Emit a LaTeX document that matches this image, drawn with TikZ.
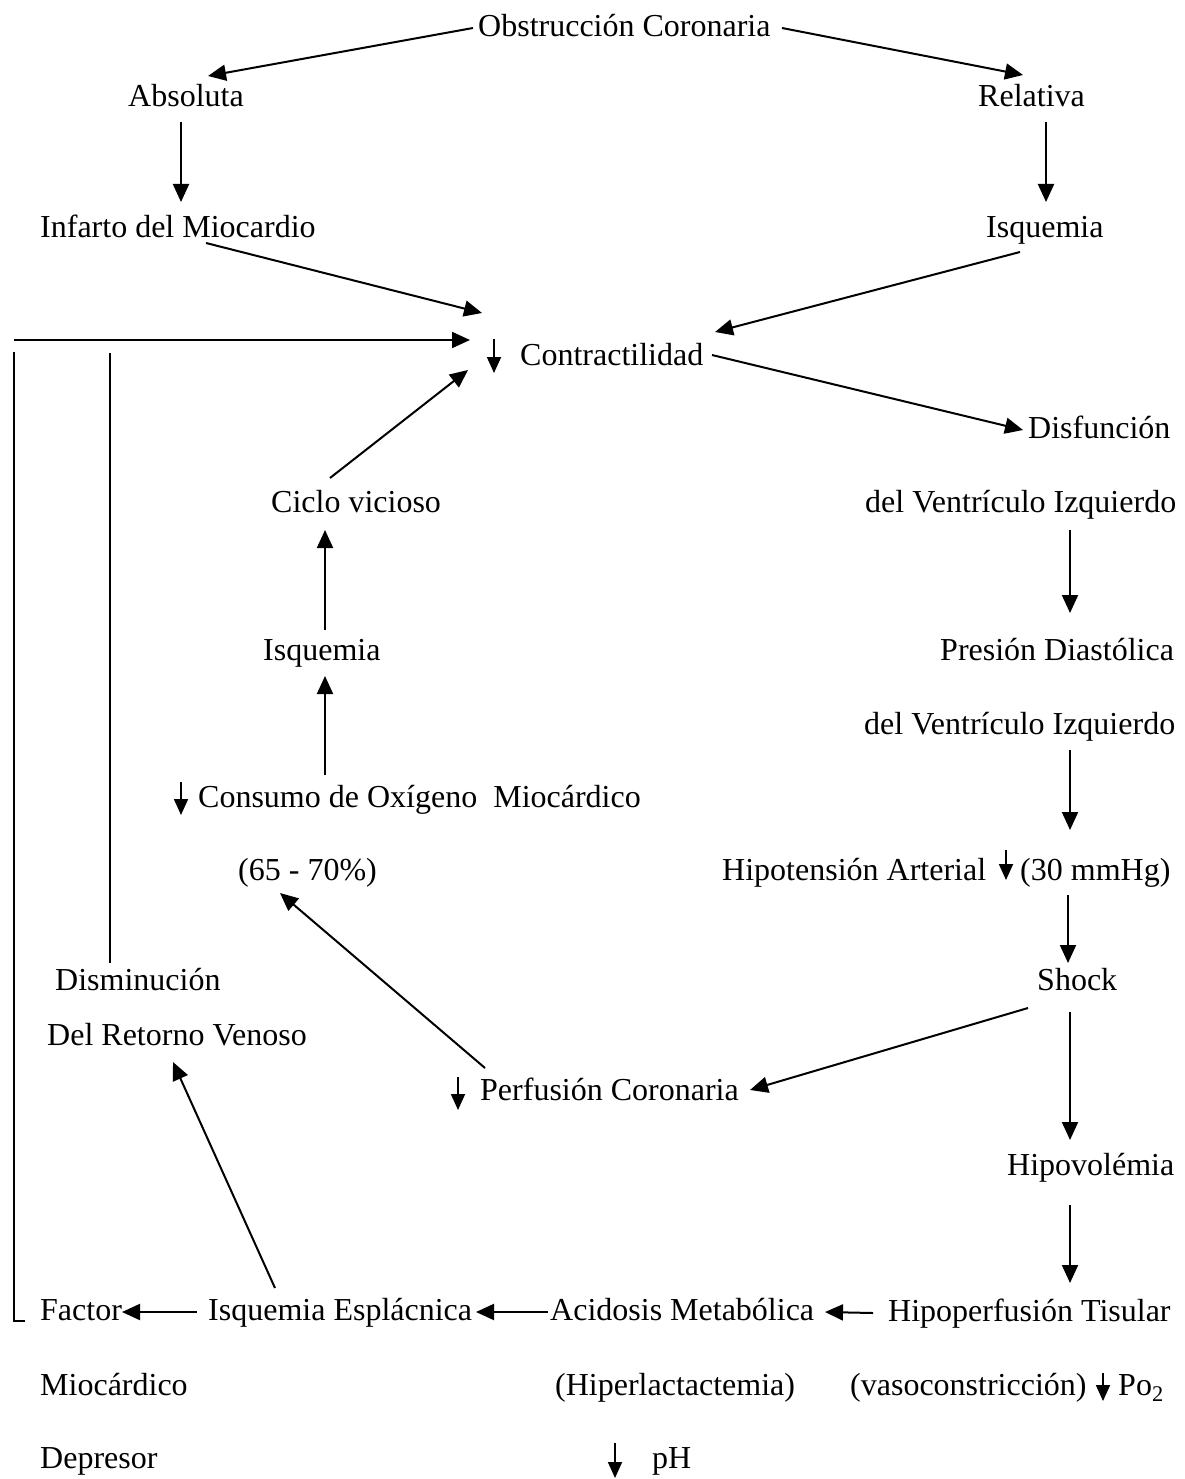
\documentclass[tikz,border=0pt]{standalone}
\usepackage{fontspec}
\setmainfont{Liberation Serif}
\usetikzlibrary{arrows.meta,calc}
\begin{document}
\begin{tikzpicture}[x=1pt,y=-1pt,
  lbl/.style={anchor=base west,inner sep=0pt,font=\fontsize{32}{38}\selectfont,text height=23pt,text depth=7pt},
  arr/.style={line width=2pt,-{Triangle[length=18pt,width=16pt]}},
  down/.style={line width=1.8pt,-{Triangle[length=16pt,width=14pt]}},
  wire/.style={line width=2pt}]
\useasboundingbox (0,0) rectangle (1184,1479);

% ---- labels ----
\node[lbl] (obs)   at (478,37)   {Obstrucción Coronaria};
\node[lbl] (abs)   at (128,107)  {Absoluta};
\node[lbl] (rel)   at (978,107)  {Relativa};
\node[lbl] (inf)   at (40,237)   {Infarto del Miocardio};
\node[lbl] (isqa)  at (986,237)  {Isquemia};
\node[lbl] (con)   at (520,365)  {Contractilidad};
\node[lbl] (dis)   at (1028,438) {Disfunción};
\node[lbl] (cic)   at (271,512)  {Ciclo vicioso};
\node[lbl] (dva)   at (865,512)  {del Ventrículo Izquierdo};
\node[lbl] (isqb)  at (263,660)  {Isquemia};
\node[lbl] (pre)   at (940,660)  {Presión Diastólica};
\node[lbl] (dvb)   at (864,734)  {del Ventrículo Izquierdo};
\node[lbl] (cons)  at (198,807)  {Consumo de Oxígeno\ \ Miocárdico};
\node[lbl] (pct)   at (238,880)  {(65 - 70\%)};
\node[lbl] (hip)   at (722,880)  {Hipotensión Arterial};
\node[lbl] (mmhg)  at (1020,880) {(30 mmHg)};
\node[lbl] (dism)  at (55,990)   {Disminución};
\node[lbl] (ret)   at (47,1045)  {Del Retorno Venoso};
\node[lbl] (shock) at (1037,990) {Shock};
\node[lbl] (perf)  at (480,1100) {Perfusión Coronaria};
\node[lbl] (hipov) at (1007,1175){Hipovolémia};
\node[lbl] (fac)   at (40,1320)  {Factor};
\node[lbl] (ise)   at (208,1320) {Isquemia Esplácnica};
\node[lbl] (aci)   at (550,1320) {Acidosis Metabólica};
\node[lbl] (hpt)   at (888,1321) {Hipoperfusión Tisular};
\node[lbl] (mio)   at (40,1395)  {Miocárdico};
\node[lbl] (hlac)  at (555,1395) {(Hiperlactactemia)};
\node[lbl] (vaso)  at (850,1395) {(vasoconstricción)};
\node[lbl] (po)    at (1118,1395){Po\textsubscript{2}};
\node[lbl] (dep)   at (40,1468)  {Depresor};
\node[lbl] (ph)    at (652,1468) {pH};

% ---- small "decrease" arrows ----
\draw[down] ($(con.base west)+(-26,-26)$) -- ($(con.base west)+(-26,8)$);
\draw[down] ($(cons.base west)+(-17,-25)$) -- ($(cons.base west)+(-17,8)$);
\draw[down] ($(mmhg.base west)+(-14,-30)$) -- ($(mmhg.base west)+(-14,0)$);
\draw[down] ($(perf.base west)+(-22,-23)$) -- ($(perf.base west)+(-22,10)$);
\draw[down] ($(po.base west)+(-15,-22)$) -- ($(po.base west)+(-15,6)$);
\draw[down] ($(ph.base west)+(-37,-25)$) -- ($(ph.base west)+(-37,10)$);

% ---- upper part ----
\draw[arr] ($(obs.base west)+(-5,-9)$) -- ($(abs.base west)+(80,-31)$);
\draw[arr] ($(obs.base west)+(304,-9)$) -- ($(rel.base west)+(45,-32)$);
\draw[arr] ($(abs.base west)+(53,15)$) -- ($(inf.base west)+(141,-35)$);
\draw[arr] ($(rel.base west)+(68,15)$) -- ($(isqa.base west)+(60,-35)$);
\draw[arr] ($(inf.base west)+(166,6)$) -- ($(con.base west)+(-38,-52)$);
\draw[arr] ($(isqa.base west)+(34,15)$) -- ($(con.base west)+(195,-33)$);
\draw[arr] ($(con.base west)+(192,-10)$) -- ($(dis.base west)+(-5,-8)$);

% ---- feedback lines on the left ----
\coordinate (lt) at (14,340);
\coordinate (lv) at (110,353);
\draw[arr] (lt) -- ($(con.base west)+(-50,-25)$);
\draw[wire] ($(fac.base west)+(-26,-968)$) -- ($(fac.base west)+(-26,1)$) -- ($(fac.base west)+(-15,1)$);
\draw[wire] (lv) -- ($(dism.base west)+(55,-27)$);

% ---- vicious cycle ----
\draw[arr] ($(cic.base west)+(59,-34)$) -- ($(con.base west)+(-52,5)$);
\draw[arr] ($(isqb.base west)+(62,-30)$) -- ($(cic.base west)+(54,18)$);
\draw[arr] ($(cons.base west)+(127,-32)$) -- ($(isqb.base west)+(62,16)$);

% ---- right column ----
\draw[arr] ($(dva.base west)+(205,18)$) -- ($(pre.base west)+(130,-47)$);
\draw[arr] ($(dvb.base west)+(206,16)$) -- ($(hip.base west)+(348,-50)$);
\draw[arr] ($(mmhg.base west)+(48,15)$) -- ($(shock.base west)+(31,-27)$);
\draw[arr] ($(shock.base west)+(33,22)$) -- ($(hipov.base west)+(63,-35)$);
\draw[arr] ($(shock.base west)+(-9,18)$) -- ($(perf.base west)+(270,-10)$);
\draw[arr] ($(perf.base west)+(5,-32)$) -- ($(pct.base west)+(42,13)$);
\draw[arr] ($(hipov.base west)+(63,30)$) -- ($(hpt.base west)+(182,-38)$);

% ---- bottom row ----
\draw[arr] ($(hpt.base west)+(-15,-8)$) -- ($(aci.base west)+(275,-8)$);
\draw[arr] ($(aci.base west)+(-2,-8)$) -- ($(ise.base west)+(268,-8)$);
\draw[arr] ($(ise.base west)+(-11,-8)$) -- ($(fac.base west)+(82,-8)$);
\draw[arr] ($(ise.base west)+(67,-32)$) -- ($(ret.base west)+(126,17)$);
\end{tikzpicture}
\end{document}
